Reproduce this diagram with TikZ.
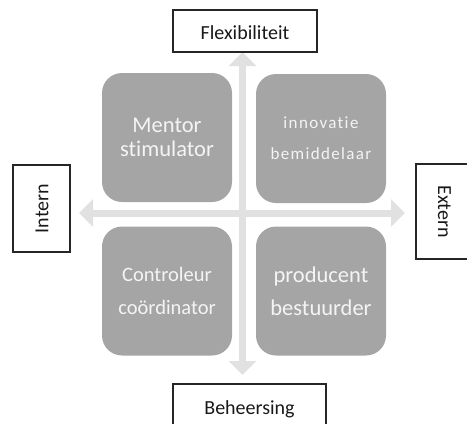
\documentclass[tikz,border=0pt]{standalone}
\usepackage{fontspec}
\setmainfont{Carlito}[Ligatures=NoCommon]
\newfontfamily\spacedfont{Carlito}[LetterSpace=8,Ligatures=NoCommon]
\usetikzlibrary{arrows.meta}
\definecolor{boxgray}{HTML}{A5A5A5}
\definecolor{axisgray}{HTML}{E1E1E1}
\definecolor{boxtext}{HTML}{F4F4F4}
\begin{document}
\begin{tikzpicture}[x=1pt,y=-1pt,
  quad/.style={fill=boxgray, rounded corners=20pt, minimum width=130pt,
    minimum height=129pt, text=boxtext, align=center, inner sep=0pt},
  axislabel/.style={draw=black!85, line width=1.1pt, fill=white, inner sep=0pt,
    text=black!90, font=\fontsize{20}{24}\selectfont,
    text height=18pt, text depth=1pt},
  axis/.style={draw=axisgray, line width=7pt,
    -{Triangle[width=27pt,length=14pt]}}
]
\useasboundingbox (0,0) rectangle (467,424);

% axis end points
\coordinate (origin) at (242.5,213);
\coordinate (top) at (242.5,52);
\coordinate (bottom) at (242.5,375);
\coordinate (left) at (79,213);
\coordinate (right) at (405,213);

% the two axes
\draw[axis] (origin) -- (top);
\draw[axis] (origin) -- (bottom);
\draw[axis] (origin) -- (left);
\draw[axis] (origin) -- (right);

% the four quadrants
\node[quad, font=\fontsize{22.5}{24.5}\selectfont] (mentor) at (167,137.5)
  {Mentor\\stimulator};
\node[quad, font=\fontsize{17}{31}\selectfont\spacedfont] (innovatie) at (321,138.5)
  {innovatie\\bemiddelaar};
\node[quad, font=\fontsize{20.5}{32.5}\selectfont] (controleur) at (167,291)
  {Controleur\\coördinator};
\node[quad, font=\fontsize{22.5}{33}\selectfont] (producent) at (321,291)
  {producent\\bestuurder};

% axis labels
\node[axislabel, minimum width=144pt, minimum height=42pt] (flex) at (245,31)
  {Flexibiliteit};
\node[axislabel, minimum width=153pt, minimum height=44pt] (beh) at (249.5,406)
  {Beheersing};
\node[axislabel, rotate=90, minimum width=87pt, minimum height=57pt,
  text height=14pt, text depth=0pt] (intern) at (41.5,208.5) {Intern};
\node[axislabel, rotate=-90, minimum width=95pt, minimum height=58pt,
  text height=14pt, text depth=0pt] (extern) at (445,211.5) {Extern};
\end{tikzpicture}
\end{document}
